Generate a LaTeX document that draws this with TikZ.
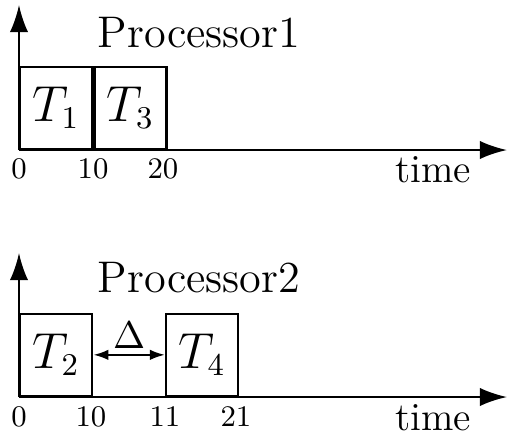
\documentclass[tikz,border=0pt]{standalone}
\usetikzlibrary{arrows.meta}
\begin{document}
\begin{tikzpicture}[x=0.01cm, y=-0.01cm, line width=0.65pt,
    axis/.style={-{Latex[length=7.7pt,width=5.2pt]}},
    gap/.style={{Latex[length=4.3pt,width=3pt]}-{Latex[length=4.3pt,width=3pt]}},
    task/.style={draw, anchor=south west, inner sep=0pt, minimum width=0.72cm,
      minimum height=0.82cm, font=\fontsize{13.5}{15}\selectfont},
    tick/.style={anchor=north, inner sep=0pt, font=\fontsize{8.5}{10}\selectfont},
    title/.style={font=\fontsize{12.6}{14}\selectfont},
    timelbl/.style={font=\fontsize{11.3}{13}\selectfont}]
  \useasboundingbox (0,0) rectangle (508,438);
  % Processor1
  \coordinate (o1) at (19,150);
  \coordinate (y1) at (19,5);
  \coordinate (x1) at (507,150);
  \node[task] (t1) at (o1) {$T_1$};
  \node[task] (t3) at (t1.south east) {$T_3$};
  \draw[axis] (o1) -- (y1);
  \draw[axis] (o1) -- (x1);
  \node[title] (p1) at (199,33) {Processor1};
  \node[timelbl] (time1) at (433,170) {time};
  \node[tick] (a0) at (19,157) {0};
  \node[tick] (a10) at (93,157) {10};
  \node[tick] (a20) at (163,157) {20};
  % Processor2
  \coordinate (o2) at (19,397);
  \coordinate (y2) at (19,253);
  \coordinate (x2) at (507,397);
  \node[task] (t2) at (o2) {$T_2$};
  \node[task] (t4) at (165,397) {$T_4$};
  \draw[axis] (o2) -- (y2);
  \draw[axis] (o2) -- (x2);
  \draw[gap] (t2.east) -- (t4.west) node[midway, above, inner sep=1.5pt,
    font=\fontsize{10.5}{12}\selectfont] (delta) {$\Delta$};
  \node[title] (p2) at (199,278) {Processor2};
  \node[timelbl] (time2) at (433,418) {time};
  \node[tick] (b0) at (19,405) {0};
  \node[tick] (b10) at (91,405) {10};
  \node[tick] (b11) at (165,405) {11};
  \node[tick] (b21) at (236,405) {21};
\end{tikzpicture}
\end{document}
